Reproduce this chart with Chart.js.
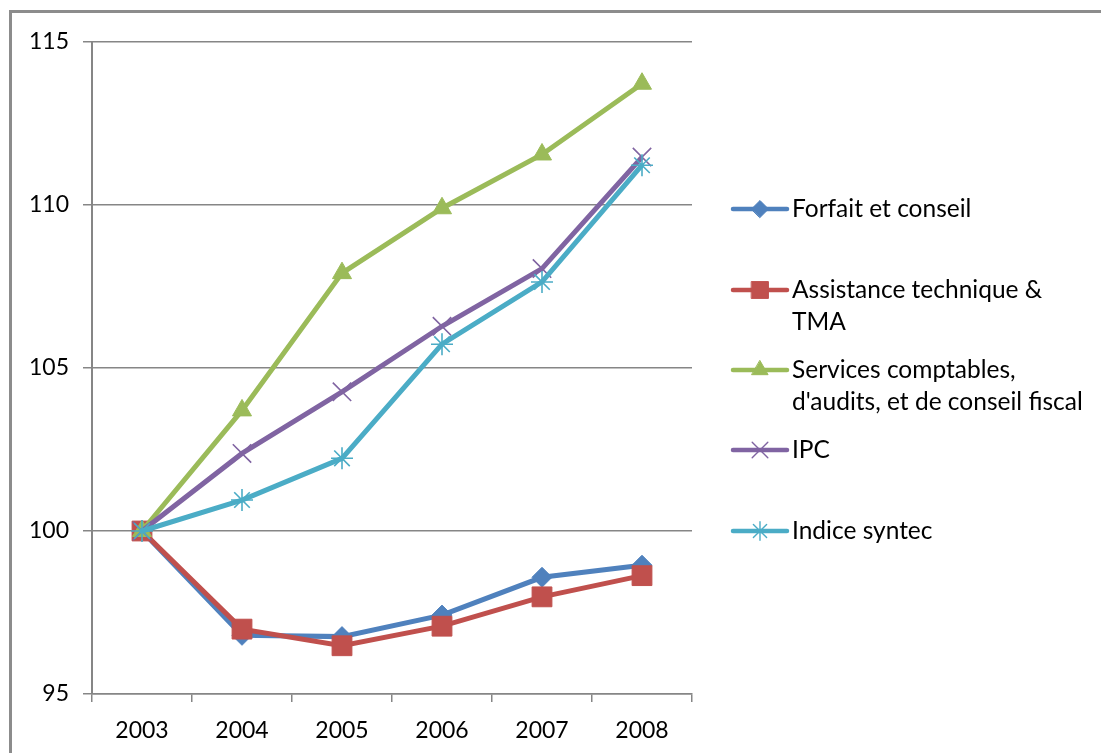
<!DOCTYPE html>
<html>
<head>
<meta charset="utf-8">
<script src="https://cdn.jsdelivr.net/npm/chart.js@4/dist/chart.umd.min.js"></script>
<style>
  body { margin: 0; background: #fff; }
  #wrap { position: relative; width: 1101px; height: 753px; overflow: hidden; }
  #frame { position: absolute; left: 9px; top: 10px; width: 1200px; height: 900px;
           border-top: 3px solid #8c8c8c; border-left: 3px solid #8c8c8c; }
  canvas { position: absolute; left: 0; top: 0; }
</style>
</head>
<body>
<div id="wrap">
  <div id="frame"></div>
  <canvas id="chart" width="1101" height="753"></canvas>
</div>
<script>
// données
const annees = ['2003', '2004', '2005', '2006', '2007', '2008'];
const forfait = [100, 96.8, 96.76, 97.42, 98.58, 98.95];
const assistance = [100, 96.99, 96.48, 97.08, 97.98, 98.63];
const services = [100, 103.7, 107.91, 109.9, 111.55, 113.72];
const ipc = [100, 102.38, 104.27, 106.28, 108.05, 111.47];
const syntec = [100, 100.95, 102.23, 105.73, 107.64, 111.22];

const noms = ['Forfait et conseil', ['Assistance technique &', 'TMA'],
  ['Services comptables,', "d'audits, et de conseil fiscal"], 'IPC', 'Indice syntec'];
const couleurs = ['#4f81bd', '#c0504d', '#9bbb59', '#8064a2', '#4bacc6'];
const formes = ['rectRot', 'rect', 'triangle', 'crossRot', 'star'];
const tailles = [10, 14, 11, 13, 11];
const legendeY = [209, 290, 370, 450, 531];

const police = 'Lato, "Noto Sans", sans-serif';

function serie(i, valeurs) {
  const croix = formes[i] === 'crossRot' || formes[i] === 'star';
  return {
    label: Array.isArray(noms[i]) ? noms[i].join(' ') : noms[i],
    data: valeurs,
    borderColor: couleurs[i],
    backgroundColor: couleurs[i],
    borderWidth: 5,
    pointStyle: formes[i],
    pointRadius: tailles[i],
    pointBorderWidth: croix ? 1.6 : 1,
    pointBorderColor: couleurs[i],
    pointBackgroundColor: couleurs[i],
    tension: 0,
    order: 5 - i
  };
}

// légende dessinée à la main à droite
const legendePlugin = {
  id: 'legendeDroite',
  afterDraw(chart) {
    const ctx = chart.ctx;
    ctx.save();
    noms.forEach(function(nom, i) {
      const y = legendeY[i];
      ctx.strokeStyle = couleurs[i];
      ctx.lineWidth = 4.5;
      ctx.lineCap = 'round';
      ctx.beginPath();
      ctx.moveTo(733, y);
      ctx.lineTo(787, y);
      ctx.stroke();
      const croix = formes[i] === 'crossRot' || formes[i] === 'star';
      ctx.fillStyle = couleurs[i];
      ctx.lineWidth = croix ? 1.4 : 1;
      Chart.helpers.drawPoint(ctx, { pointStyle: formes[i], rotation: 0, radius: tailles[i] * 0.85, borderWidth: ctx.lineWidth }, 760, y);
      ctx.fillStyle = '#000';
      ctx.font = '24.5px ' + police;
      ctx.textBaseline = 'middle';
      ctx.textAlign = 'left';
      const lignes = Array.isArray(nom) ? nom : [nom];
      lignes.forEach(function(t, k) {
        ctx.fillText(t, 792, y + k * 32);
      });
    });
    ctx.restore();
  }
};

new Chart(document.getElementById('chart'), {
  type: 'line',
  data: {
    labels: annees,
    datasets: [
      serie(0, forfait),
      serie(1, assistance),
      serie(2, services),
      serie(3, ipc),
      serie(4, syntec)
    ]
  },
  options: {
    responsive: false,
    animation: false,
    layout: { padding: { top: 42, right: 409, bottom: 0, left: 0 } },
    plugins: {
      legend: { display: false },
      tooltip: { enabled: false }
    },
    scales: {
      x: {
        offset: true,
        grid: { display: true, drawOnChartArea: false, drawTicks: true, tickLength: 8, color: '#868686', lineWidth: 1.5, offset: true },
        border: { color: '#868686', width: 1.5 },
        ticks: { color: '#000', font: { family: police, size: 23 }, padding: 15, maxRotation: 0 },
        afterFit: function(s) { s.height = 59; }
      },
      y: {
        min: 95,
        max: 115,
        ticks: { stepSize: 5, color: '#000', font: { family: police, size: 23 }, padding: 14 },
        grid: { color: '#868686', lineWidth: 1.5, tickLength: 9 },
        border: { color: '#868686', width: 2 },
        afterFit: function(s) { s.width = 92; }
      }
    }
  },
  plugins: [legendePlugin]
});
</script>
</body>
</html>
